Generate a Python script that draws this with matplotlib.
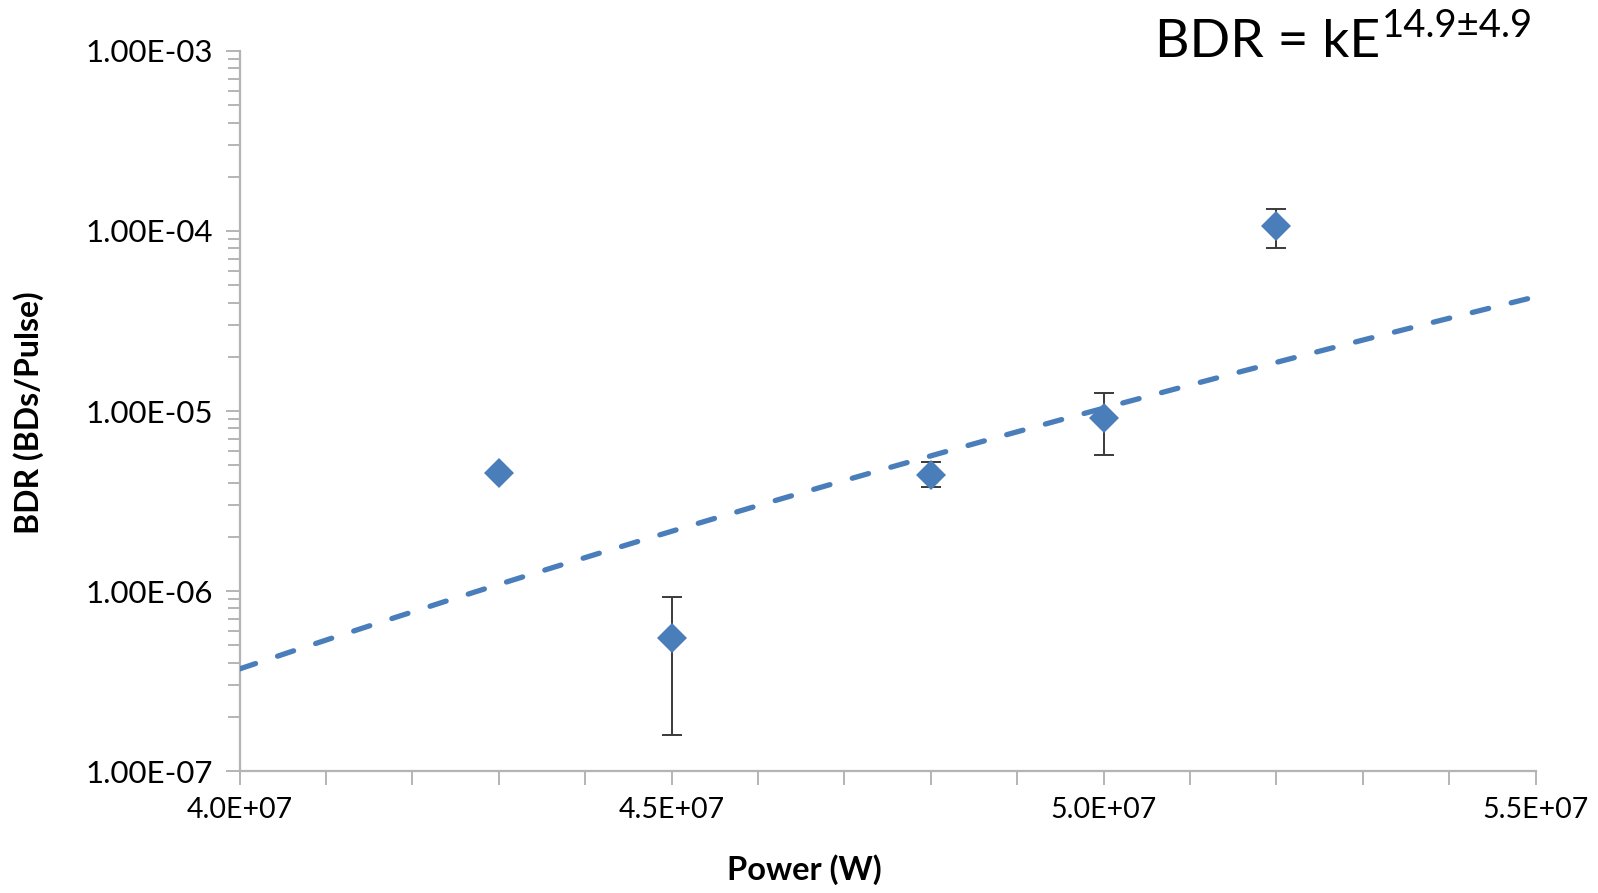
import matplotlib.pyplot as plt
import numpy as np
from matplotlib.ticker import FixedLocator, LogLocator, FuncFormatter, NullFormatter

# Data section
power = [4.3e7, 4.5e7, 4.8e7, 5.0e7, 5.2e7]
bdr = [4.5e-6, 5.45e-7, 4.4e-6, 9.2e-6, 1.06e-4]
err_hi = [4.5e-6, 9.3e-7, 5.2e-6, 1.26e-5, 1.32e-4]
err_lo = [4.5e-6, 1.58e-7, 3.76e-6, 5.7e-6, 8.05e-5]

# power law trend  BDR = k * P^n  (k given at 4.0E+07)
trend_exp = 14.95
trend_at_40 = 3.69e-7

blue = '#4a7ebb'
axcol = '#b4b4b4'
plt.rcParams['font.family'] = ['Lato', 'DejaVu Sans']

fig = plt.figure(figsize=(15.98, 8.93), dpi=100)
ax = fig.add_axes([0.1499, 0.1366, 0.8111, 0.8063])

bdr = np.array(bdr)
yerr = [bdr - np.array(err_lo), np.array(err_hi) - bdr]

grid = np.linspace(4.0e7, 5.5e7, 200)
ax.plot(grid, trend_at_40 * (grid / 4.0e7) ** trend_exp, color=blue, lw=3.8,
        linestyle=(0, (3.2, 4.4)), dash_capstyle='round', zorder=3)

ax.errorbar(power, bdr, yerr=yerr, fmt='none', ecolor='#3a3a3a', elinewidth=1.4,
            capsize=7, capthick=1.4, zorder=2)
ax.plot(power, bdr, 'D', color=blue, ms=15, mew=0, zorder=4)

ax.set_yscale('log')
ax.set_ylim(1e-7, 1e-3)
ax.set_xlim(4.0e7, 5.5e7)

ax.xaxis.set_major_locator(FixedLocator([4.0e7, 4.5e7, 5.0e7, 5.5e7]))
ax.xaxis.set_minor_locator(FixedLocator(np.arange(4.0e7, 5.5e7, 1e6)))
ax.xaxis.set_major_formatter(FuncFormatter(lambda v, p: '%.1fE+%02d' % (v / 1e7, 7)))
ax.yaxis.set_major_locator(LogLocator(base=10, numticks=10))
ax.yaxis.set_minor_locator(LogLocator(base=10, subs=np.arange(2, 10), numticks=20))
ax.yaxis.set_minor_formatter(NullFormatter())
ax.yaxis.set_major_formatter(FuncFormatter(lambda v, p: '1.00E-%02d' % round(-np.log10(v))))

for s in ['top', 'right']:
    ax.spines[s].set_visible(False)
for s in ['left', 'bottom']:
    ax.spines[s].set_color(axcol)
    ax.spines[s].set_linewidth(1.6)

ax.tick_params(which='both', direction='out', color=axcol, width=1.4, pad=9)
ax.tick_params(axis='x', labelsize=20.5)
ax.tick_params(axis='y', labelsize=22.5)
ax.tick_params(which='major', length=10)
ax.tick_params(which='minor', length=9)
ax.tick_params(axis='x', which='minor', length=10)

ax.set_xlabel('Power (W)', fontsize=23.5, fontweight='bold')
ax.xaxis.set_label_coords(0.4356, -0.116)
ax.set_ylabel('BDR (BDs/Pulse)', fontsize=23, fontweight='bold')
ax.yaxis.set_label_coords(-0.151, 0.497)

# equation: main part + superscript placed right after it
eq = fig.text(0.7225, 0.936, 'BDR = kE', fontsize=38.5, ha='left', va='baseline')
fig.canvas.draw()
bb = eq.get_window_extent()
fig.text(bb.x1 / fig.bbox.width + 0.001, 0.959, '14.9±4.9', fontsize=27.5,
         ha='left', va='baseline')

plt.savefig('out.png', dpi=100)
